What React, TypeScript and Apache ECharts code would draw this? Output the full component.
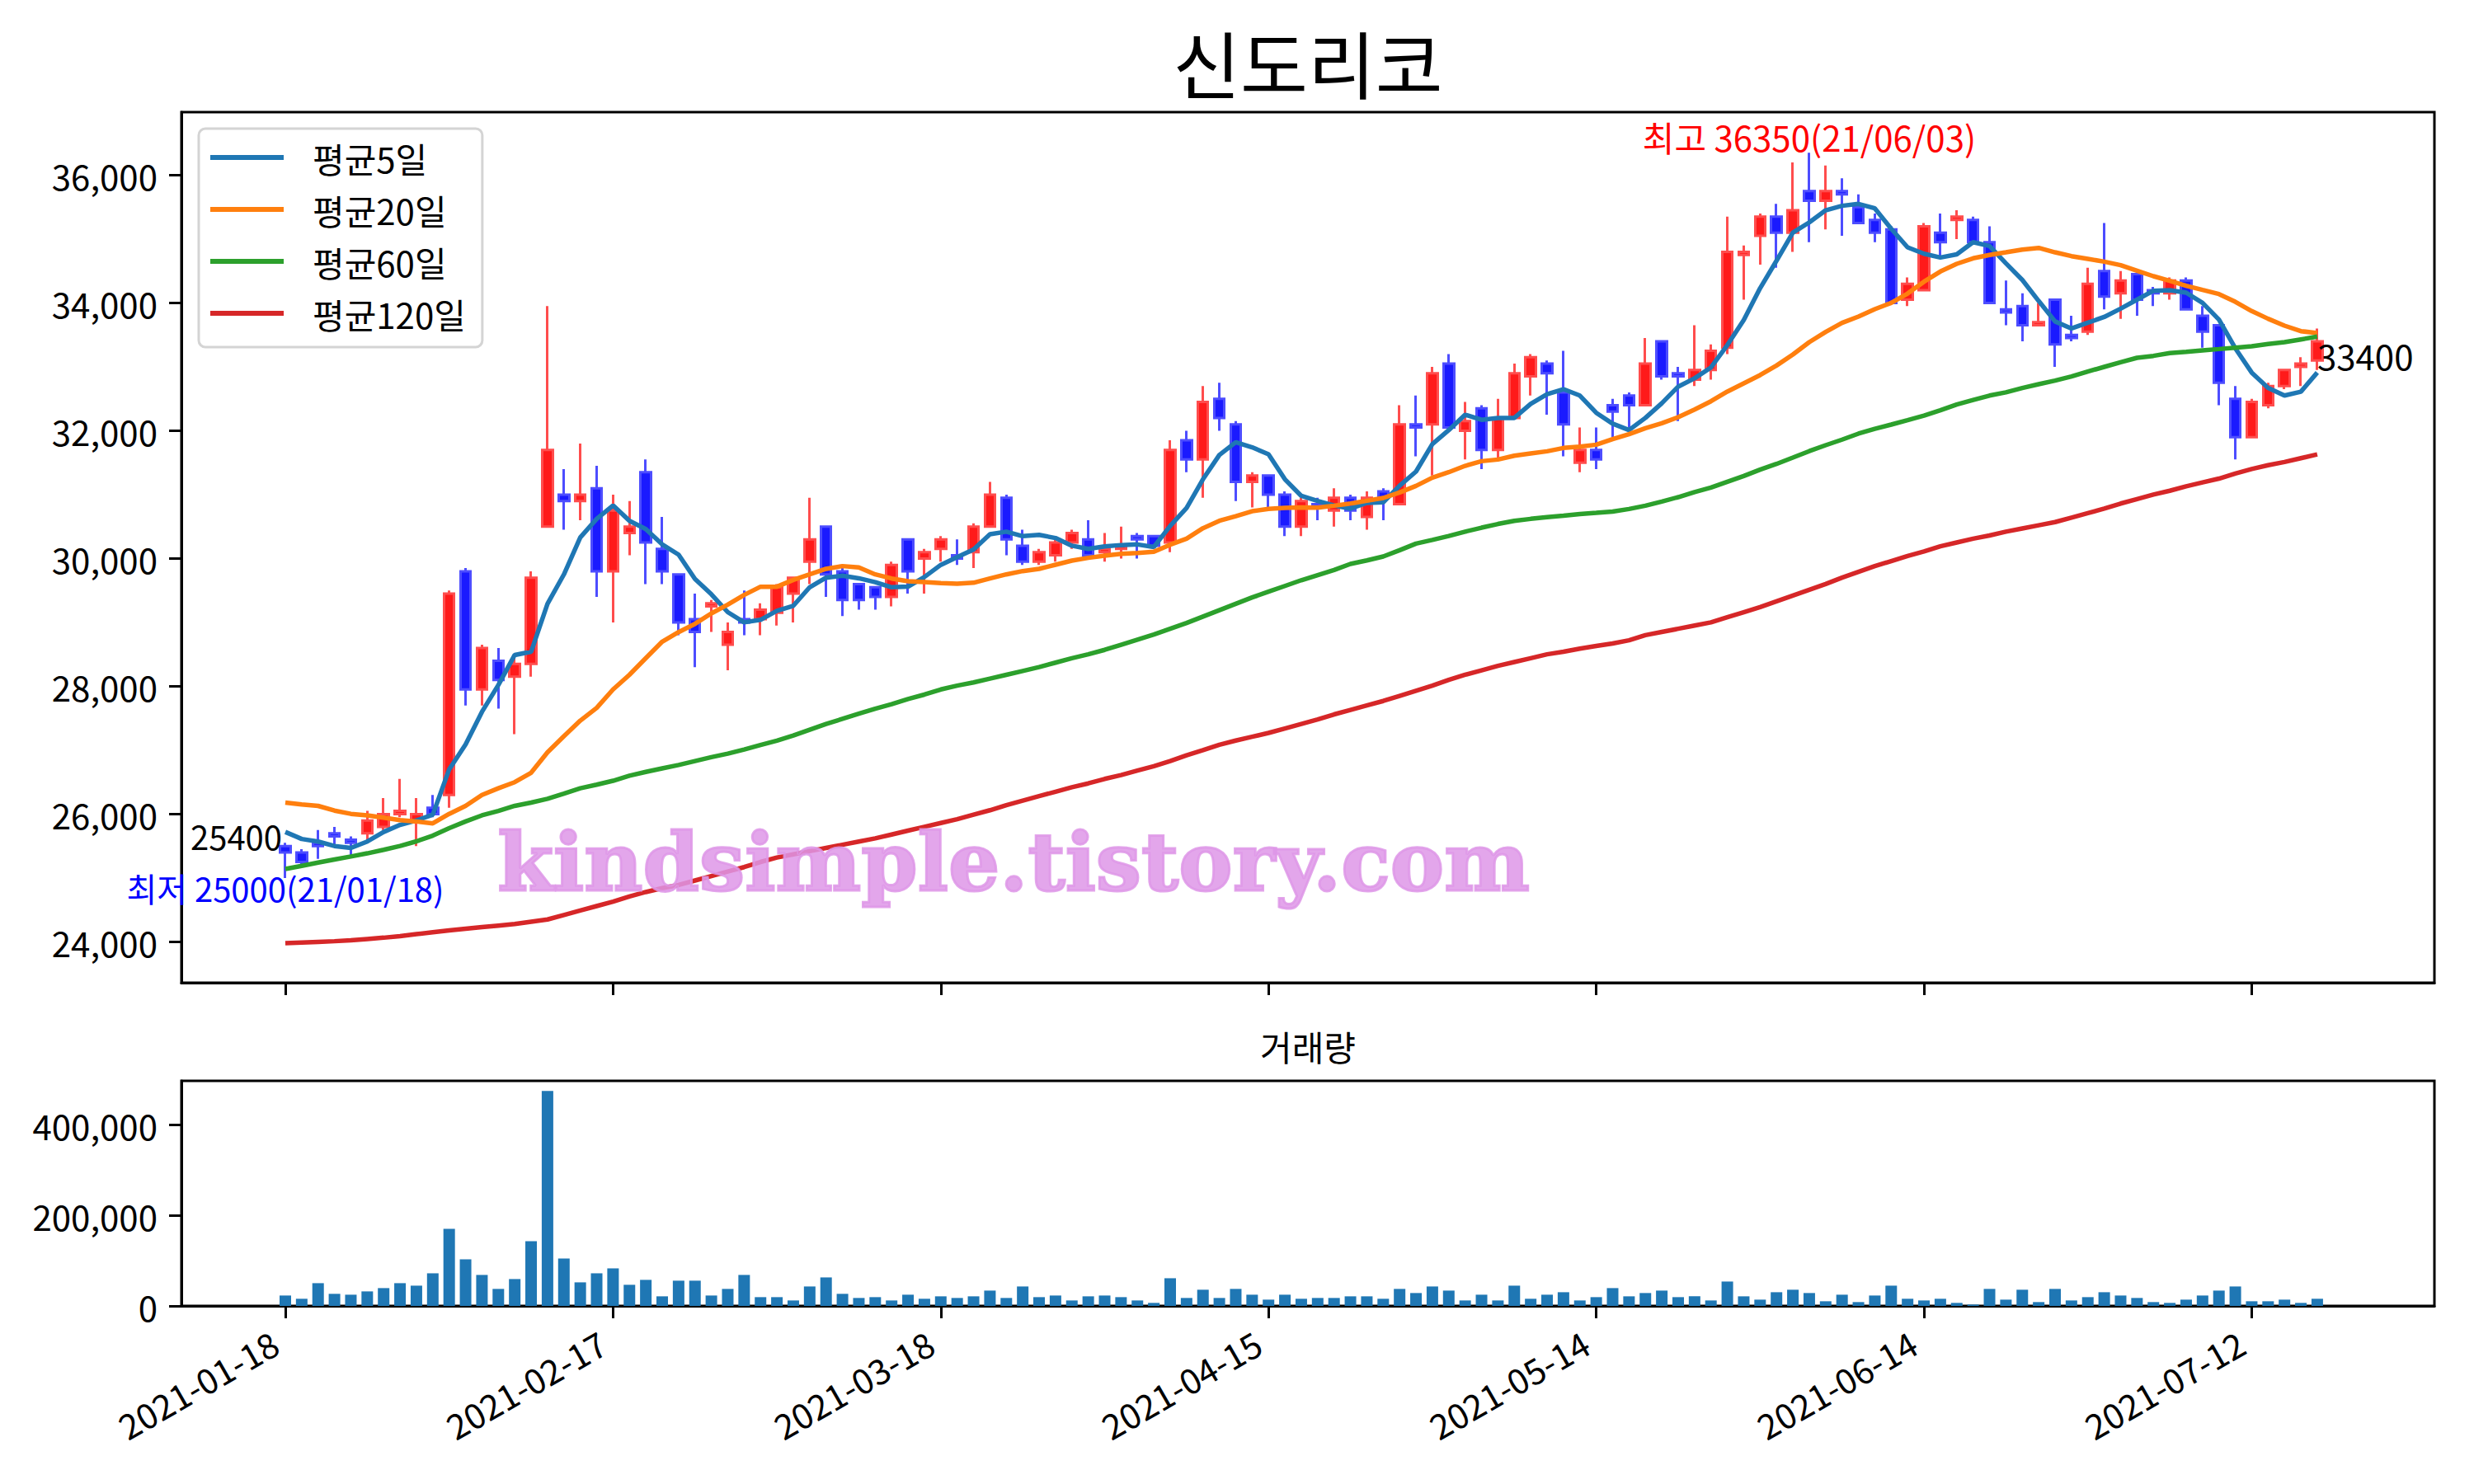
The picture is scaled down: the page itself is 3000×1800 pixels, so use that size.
import React, { useEffect, useRef } from "react";
import * as echarts from "echarts";

const TITLE = "신도리코";
const VOLUME_TITLE = "거래량";
const WATERMARK = "kindsimple.tistory.com";
const LEGEND_NAMES = ["평균5일", "평균20일", "평균60일", "평균120일"];
const LINE_COLORS = ["#1f77b4", "#ff7f0e", "#2ca02c", "#d62728"];
const TICK_INDEX = [0, 20, 40, 60, 80, 100, 120];
const TICK_LABELS = ["2021-01-18", "2021-02-17", "2021-03-18", "2021-04-15", "2021-05-14", "2021-06-14", "2021-07-12"];
const PRICE_TICKS = [24000, 26000, 28000, 30000, 32000, 34000, 36000];
const VOLUME_TICKS = [0, 200000, 400000];

const OPEN = [
  25500, 25400, 25550, 25700, 25600, 25700, 25800, 26000, 25900, 26100,
  26300, 29800, 27950, 28400, 28150, 28350, 30500, 31000, 30900, 31100,
  29800, 30400, 31350, 30150, 29750, 29050, 29250, 28650, 29050, 29050,
  29150, 29450, 29950, 30500, 29800, 29600, 29550, 29400, 30300, 30000,
  30150, 30050, 30100, 30500, 30950, 30200, 29950, 30050, 30250, 30300,
  30100, 30150, 30350, 30350, 30250, 31850, 31550, 32500, 32100, 31200,
  31300, 31000, 30500, 30850, 30750, 30950, 30650, 31050, 30850, 32100,
  32100, 33050, 32000, 32350, 31700, 32200, 32850, 33050, 32600, 31500,
  31700, 32400, 32550, 32400, 33400, 32900, 32800, 32950, 33300, 34750,
  35050, 35350, 35100, 35750, 35600, 35750, 35500, 35300, 35150, 34050,
  34200, 35100, 35300, 35300, 34950, 33900, 33950, 33650, 34050, 33500,
  33550, 34500, 34150, 34450, 34200, 34150, 34350, 33800, 33650, 32500,
  31900, 32400, 32700, 33000, 33100,
];
const CLOSE = [
  25400, 25250, 25500, 25650, 25550, 25900, 26000, 26050, 26000, 26000,
  29450, 27950, 28600, 28100, 28350, 29700, 31700, 30900, 31000, 29800,
  30750, 30500, 30250, 29800, 29000, 28850, 29300, 28850, 29000, 29200,
  29550, 29700, 30300, 29750, 29350, 29350, 29400, 29900, 29800, 30100,
  30300, 30000, 30500, 31000, 30300, 29950, 30100, 30250, 30400, 30050,
  30150, 30200, 30300, 30200, 31700, 31550, 32450, 32200, 31200, 31300,
  31000, 30500, 30900, 30800, 30950, 30750, 30950, 30950, 32100, 32050,
  32900, 32050, 32150, 31700, 32200, 32900, 33150, 32900, 32100, 31700,
  31550, 32300, 32400, 33050, 32850, 32850, 32950, 33250, 34800, 34800,
  35350, 35100, 35450, 35600, 35750, 35700, 35250, 35100, 34000, 34300,
  35200, 34950, 35350, 34950, 34000, 33850, 33650, 33700, 33350, 33450,
  34300, 34100, 34350, 34050, 34150, 34350, 33900, 33550, 32750, 31900,
  32450, 32700, 32950, 33050, 33400,
];
const LOW = [
  25000, 25200, 25300, 25500, 25350, 25550, 25750, 25950, 25500, 25950,
  26100, 27700, 27700, 27650, 27250, 28150, 30500, 30450, 30600, 29400,
  29000, 30050, 29600, 29600, 28800, 28300, 28850, 28250, 28800, 28800,
  28950, 29000, 29600, 29400, 29100, 29200, 29200, 29250, 29450, 29450,
  29950, 29900, 29850, 30500, 30050, 29900, 29900, 29950, 30150, 30000,
  29950, 30000, 30000, 30200, 30100, 31350, 30950, 32000, 30900, 30800,
  30800, 30350, 30350, 30600, 30500, 30600, 30450, 30600, 30850, 31600,
  31300, 32050, 31550, 31400, 31550, 32200, 32550, 32250, 31600, 31350,
  31400, 31900, 32050, 32400, 32800, 32150, 32700, 32800, 33200, 34050,
  34600, 34550, 34800, 34950, 35150, 35050, 35250, 34950, 34000, 33950,
  34200, 34700, 35000, 34950, 34000, 33650, 33400, 33650, 33000, 33400,
  33500, 33900, 33750, 33800, 33950, 34050, 33900, 33300, 32400, 31550,
  31900, 32350, 32650, 32700, 32950,
];
const HIGH = [
  25550, 25450, 25750, 25800, 25650, 26050, 26250, 26550, 26250, 26300,
  29500, 29850, 28650, 28600, 28500, 29800, 33950, 31400, 31800, 31450,
  31000, 30900, 31550, 30650, 29750, 29450, 29350, 29000, 29500, 29300,
  29600, 29700, 30950, 30500, 29900, 29600, 29550, 29950, 30300, 30150,
  30350, 30300, 30550, 31200, 31000, 30450, 30150, 30300, 30450, 30600,
  30400, 30500, 30400, 30350, 31850, 32000, 32700, 32750, 32150, 31350,
  31300, 31050, 30950, 30950, 31100, 31000, 31050, 31100, 32400, 32550,
  33000, 33200, 32450, 32400, 32500, 33050, 33200, 33100, 33250, 32050,
  32050, 32500, 32600, 33450, 33400, 33000, 33650, 33350, 35350, 34900,
  35400, 35550, 36200, 36350, 36150, 35950, 35700, 35400, 35200, 34400,
  35250, 35400, 35450, 35350, 35200, 34350, 34150, 34000, 34050, 33800,
  34550, 35250, 34500, 34450, 34250, 34400, 34400, 33950, 33650, 32700,
  32500, 32750, 32950, 33150, 33600,
];
const VOLUME = [
  23000, 15800, 50300, 26700, 24800, 32100, 39400, 50300, 44800, 72100,
  170300, 103000, 68500, 37600, 59400, 143000, 475000, 104800, 52100, 72100,
  83000, 46700, 57600, 21200, 55800, 55800, 23000, 37600, 68500, 19400,
  19400, 12100, 43000, 63000, 26700, 17600, 19400, 12100, 24800, 15800,
  21200, 17600, 21200, 33900, 17600, 43000, 19400, 23000, 12100, 21200,
  23000, 19400, 12100, 6700, 61200, 17600, 35800, 17600, 37600, 24800,
  13900, 24800, 15800, 17600, 17600, 21200, 21200, 15800, 37600, 28500,
  43000, 33900, 12100, 24800, 12100, 44800, 15800, 24800, 30300, 12100,
  19400, 39400, 21200, 28500, 33900, 19400, 21200, 12100, 53900, 21200,
  13900, 30300, 35800, 28500, 10300, 24800, 8500, 23000, 44800, 15800,
  12100, 15800, 6700, 3000, 37600, 13900, 35800, 8500, 37600, 12100,
  19400, 30300, 23000, 17600, 8500, 6700, 13900, 23000, 33900, 43000,
  10300, 10300, 13900, 6700, 15800,
];
const MA5 = [
  25720, 25610, 25570, 25500, 25470, 25570, 25720, 25830, 25900, 25990,
  26700, 27090, 27600, 28020, 28490, 28540, 29290, 29750, 30330, 30620,
  30830, 30590, 30460, 30220, 30060, 29680, 29440, 29160, 29000, 29040,
  29180, 29260, 29550, 29700, 29730, 29690, 29630, 29550, 29560, 29710,
  29900, 30020, 30140, 30380, 30420, 30350, 30370, 30320, 30200, 30150,
  30190, 30210, 30220, 30180, 30510, 30790, 31240, 31620, 31820, 31740,
  31630, 31240, 30980, 30900, 30830, 30780, 30870, 30880, 31140, 31360,
  31790, 32010, 32250, 32170, 32200, 32200, 32420, 32570, 32650, 32550,
  32280, 32110, 32010, 32200, 32430, 32690, 32820, 32990, 33340, 33730,
  34230, 34660, 35100, 35260, 35450, 35520, 35550, 35480, 35160, 34870,
  34770, 34710, 34760, 34950, 34890, 34620, 34360, 34030, 33710, 33600,
  33690, 33780, 33910, 34050, 34190, 34200, 34160, 34000, 33740, 33290,
  32910, 32670, 32550, 32610, 32910,
];
const MA20 = [
  26180, 26150, 26128, 26054, 26003, 25980, 25943, 25906, 25884, 25854,
  26003, 26128, 26299, 26403, 26499, 26647, 26966, 27218, 27462, 27662,
  27950, 28180, 28440, 28698, 28848, 28977, 29141, 29278, 29429, 29558,
  29558, 29665, 29751, 29838, 29881, 29859, 29751, 29687, 29644, 29631,
  29614, 29605, 29620, 29687, 29751, 29803, 29838, 29902, 29966, 30010,
  30044, 30074, 30087, 30104, 30216, 30310, 30474, 30590, 30663, 30740,
  30775, 30792, 30800, 30795, 30826, 30861, 30904, 30947, 31033, 31136,
  31265, 31351, 31450, 31523, 31549, 31609, 31644, 31678, 31730, 31751,
  31781, 31867, 31945, 32040, 32117, 32212, 32332, 32461, 32612, 32741,
  32870, 33020, 33192, 33386, 33545, 33687, 33786, 33902, 34001, 34147,
  34332, 34491, 34612, 34698, 34750, 34792, 34835, 34861, 34792, 34732,
  34689, 34646, 34590, 34504, 34418, 34345, 34268, 34203, 34139, 34018,
  33872, 33752, 33644, 33558, 33528,
];
const MA60 = [
  25140, 25190, 25240, 25290, 25336, 25385, 25440, 25500, 25573, 25662,
  25780, 25884, 25980, 26050, 26128, 26180, 26239, 26320, 26403, 26460,
  26521, 26600, 26660, 26715, 26768, 26830, 26890, 26945, 27010, 27080,
  27150, 27230, 27320, 27410, 27490, 27570, 27650, 27720, 27800, 27870,
  27950, 28010, 28060, 28120, 28180, 28240, 28300, 28370, 28440, 28500,
  28570, 28650, 28730, 28810, 28900, 28990, 29090, 29190, 29290, 29390,
  29480, 29570, 29660, 29740, 29820, 29915, 29970, 30031, 30130, 30233,
  30290, 30353, 30420, 30482, 30540, 30590, 30620, 30646, 30670, 30697,
  30715, 30735, 30775, 30826, 30891, 30960, 31040, 31110, 31200, 31290,
  31390, 31480, 31579, 31680, 31773, 31860, 31954, 32030, 32096, 32165,
  32237, 32320, 32409, 32480, 32550, 32600, 32668, 32728, 32784, 32848,
  32926, 32999, 33072, 33141, 33171, 33214, 33235, 33257, 33278, 33300,
  33321, 33356, 33386, 33429, 33472,
];
const MA120 = [
  23980, 23990, 24000, 24010, 24025, 24045, 24065, 24090, 24120, 24150,
  24180, 24205, 24230, 24255, 24280, 24315, 24350, 24420, 24490, 24560,
  24630, 24710, 24780, 24840, 24890, 24960, 25030, 25100, 25170, 25250,
  25320, 25370, 25420, 25470, 25520, 25570, 25620, 25680, 25740, 25800,
  25860, 25920, 25990, 26060, 26140, 26210, 26280, 26350, 26420, 26480,
  26550, 26610, 26680, 26750, 26830, 26920, 27000, 27085, 27150, 27210,
  27270, 27340, 27410, 27480, 27560, 27630, 27700, 27770, 27850, 27930,
  28010, 28100, 28180, 28250, 28320, 28380, 28440, 28500, 28540, 28590,
  28630, 28670, 28720, 28800, 28850, 28900, 28950, 29000, 29080, 29160,
  29240, 29330, 29420, 29510, 29600, 29700, 29790, 29880, 29960, 30040,
  30110, 30190, 30250, 30310, 30360, 30420, 30470, 30520, 30570, 30640,
  30710, 30780, 30860, 30930, 31000, 31060, 31130, 31190, 31250, 31330,
  31400, 31460, 31510, 31570, 31630,
];

const LAST_CLOSE_LABEL = "33400";
const FIRST_CLOSE_LABEL = "25400";
const MIN_LABEL = "최저 25000(21/01/18)";
const MAX_LABEL = "최고 36350(21/06/03)";

const FONT = "'Noto Sans CJK KR', 'Noto Sans', sans-serif";
const X_MIN = -6.34;
const X_MAX = 131.15;

const fmt = (v: number) => Math.round(v).toLocaleString("en-US");

export default function App() {
  const ref = useRef<HTMLDivElement>(null);

  useEffect(() => {
    if (!ref.current) return;
    const chart = echarts.init(ref.current, null, { renderer: "svg" });
    const mas = [MA5, MA20, MA60, MA120];

    const tickStyle = { show: true, length: 15, inside: false, lineStyle: { color: "#000", width: 3 } };
    const labelBase = { color: "#000", fontSize: 42, fontFamily: FONT };

    const option: any = {
      animation: false,
      backgroundColor: "#fff",
      textStyle: { fontFamily: FONT },
      grid: [
        { left: 220, top: 136, width: 2732, height: 1056, show: true, borderColor: "#000", borderWidth: 3, backgroundColor: "transparent" },
        { left: 220, top: 1311, width: 2732, height: 273, show: true, borderColor: "#000", borderWidth: 3, backgroundColor: "transparent" },
      ],
      legend: {
        data: LEGEND_NAMES,
        orient: "vertical",
        left: 241,
        top: 156,
        icon: "rect",
        itemWidth: 89,
        itemHeight: 6,
        itemGap: 21,
        padding: [14, 20, 20, 14],
        backgroundColor: "rgba(255,255,255,0.8)",
        borderColor: "#d4d4d4",
        borderWidth: 3,
        borderRadius: 8,
        textStyle: { fontSize: 42, lineHeight: 42, color: "#000", fontFamily: FONT, padding: [0, 0, 0, 30] },
      },
      xAxis: [
        {
          type: "value", gridIndex: 0, min: X_MIN, max: X_MAX,
          axisLine: { show: true, onZero: false, lineStyle: { color: "#000", width: 3 } },
          splitLine: { show: false },
          axisTick: { ...tickStyle, customValues: TICK_INDEX },
          axisLabel: { show: false },
        },
        {
          type: "value", gridIndex: 1, min: X_MIN, max: X_MAX,
          axisLine: { show: true, onZero: false, lineStyle: { color: "#000", width: 3 } },
          splitLine: { show: false },
          axisTick: { ...tickStyle, customValues: TICK_INDEX },
          axisLabel: {
            ...labelBase,
            customValues: TICK_INDEX,
            rotate: 30,
            margin: 33,
            padding: [0, 15, 0, 0],
            formatter: (v: number) => {
              const k = TICK_INDEX.indexOf(Math.round(v));
              return k >= 0 ? TICK_LABELS[k] : "";
            },
          },
        },
      ],
      yAxis: [
        {
          type: "value", gridIndex: 0, min: 23360, max: 36986,
          axisLine: { show: true, onZero: false, lineStyle: { color: "#000", width: 3 } },
          splitLine: { show: false },
          axisTick: { ...tickStyle, customValues: PRICE_TICKS },
          axisLabel: { ...labelBase, customValues: PRICE_TICKS, margin: 29, formatter: (v: number) => fmt(v) },
        },
        {
          type: "value", gridIndex: 1, min: 0, max: 497500,
          axisLine: { show: true, onZero: false, lineStyle: { color: "#000", width: 3 } },
          splitLine: { show: false },
          axisTick: { ...tickStyle, customValues: VOLUME_TICKS },
          axisLabel: { ...labelBase, customValues: VOLUME_TICKS, margin: 29, formatter: (v: number) => fmt(v) },
        },
      ],
      series: [
        {
          type: "candlestick",
          xAxisIndex: 0,
          yAxisIndex: 0,
          barWidth: 13,
          data: OPEN.map((o, i) => [i, o, CLOSE[i], LOW[i], HIGH[i]]),
          itemStyle: {
            color: "#ff1a1a",
            color0: "#1a1aff",
            borderColor: "#ff4d4d",
            borderColor0: "#4d4dff",
            borderWidth: 3,
          },
          z: 2,
        },
        ...mas.map((arr, k) => ({
          type: "line",
          name: LEGEND_NAMES[k],
          xAxisIndex: 0,
          yAxisIndex: 0,
          data: arr.map((v, i) => [i, v]),
          showSymbol: false,
          symbol: "none",
          lineStyle: { width: 5.5, color: LINE_COLORS[k] },
          itemStyle: { color: LINE_COLORS[k] },
          z: 3,
        })),
        {
          type: "bar",
          xAxisIndex: 1,
          yAxisIndex: 1,
          barWidth: 14,
          data: VOLUME.map((v, i) => [i, v]),
          itemStyle: { color: "#1f77b4" },
        },
      ],
    };
    chart.setOption(option);

    const p = (gi: number, x: number, y: number) =>
      chart.convertToPixel({ xAxisIndex: gi, yAxisIndex: gi } as any, [x, y]) as number[];
    const lastIdx = CLOSE.length - 1;
    const pFirst = p(0, 0, CLOSE[0]);
    const pMin = p(0, 0, 24620);
    const pMax = p(0, 93, 36350);
    const pLast = p(0, lastIdx, CLOSE[lastIdx]);

    chart.setOption({
      graphic: [
        { type: "text", x: 1586, y: 74, style: { text: TITLE, fontSize: 89, fontFamily: FONT, fill: "#000", align: "center", verticalAlign: "middle" } },
        { type: "text", x: 1586, y: 1268, style: { text: VOLUME_TITLE, fontSize: 42, fontFamily: FONT, fill: "#000", align: "center", verticalAlign: "middle" } },
        {
          type: "text", x: 1229, y: 1045, z: 10,
          style: {
            text: WATERMARK, fontSize: 98, fontWeight: "bold", fontFamily: "'DejaVu Serif', serif",
            fill: "rgba(222,150,232,0.85)", stroke: "rgba(222,150,232,0.85)", lineWidth: 3,
            align: "center", verticalAlign: "middle",
          },
        },
        { type: "text", x: pFirst[0] - 4, y: pFirst[1] - 20, z: 10, style: { text: FIRST_CLOSE_LABEL, fontSize: 40, fontFamily: FONT, fill: "#000", align: "right", verticalAlign: "middle" } },
        { type: "text", x: pMin[0], y: pMin[1] - 17, z: 10, style: { text: MIN_LABEL, fontSize: 40, fontFamily: FONT, fill: "#0000ff", align: "center", verticalAlign: "middle" } },
        { type: "text", x: pMax[0], y: pMax[1] - 20, z: 10, style: { text: MAX_LABEL, fontSize: 42, fontFamily: FONT, fill: "#ff0000", align: "center", verticalAlign: "middle" } },
        { type: "text", x: pLast[0], y: pLast[1] - 4, z: 10, style: { text: LAST_CLOSE_LABEL, fontSize: 42, fontFamily: FONT, fill: "#000", align: "left", verticalAlign: "top" } },
      ],
    });

    return () => chart.dispose();
  }, []);

  return <div ref={ref} style={{ position: "fixed", left: 0, top: 0, width: 3000, height: 1800 }} />;
}
